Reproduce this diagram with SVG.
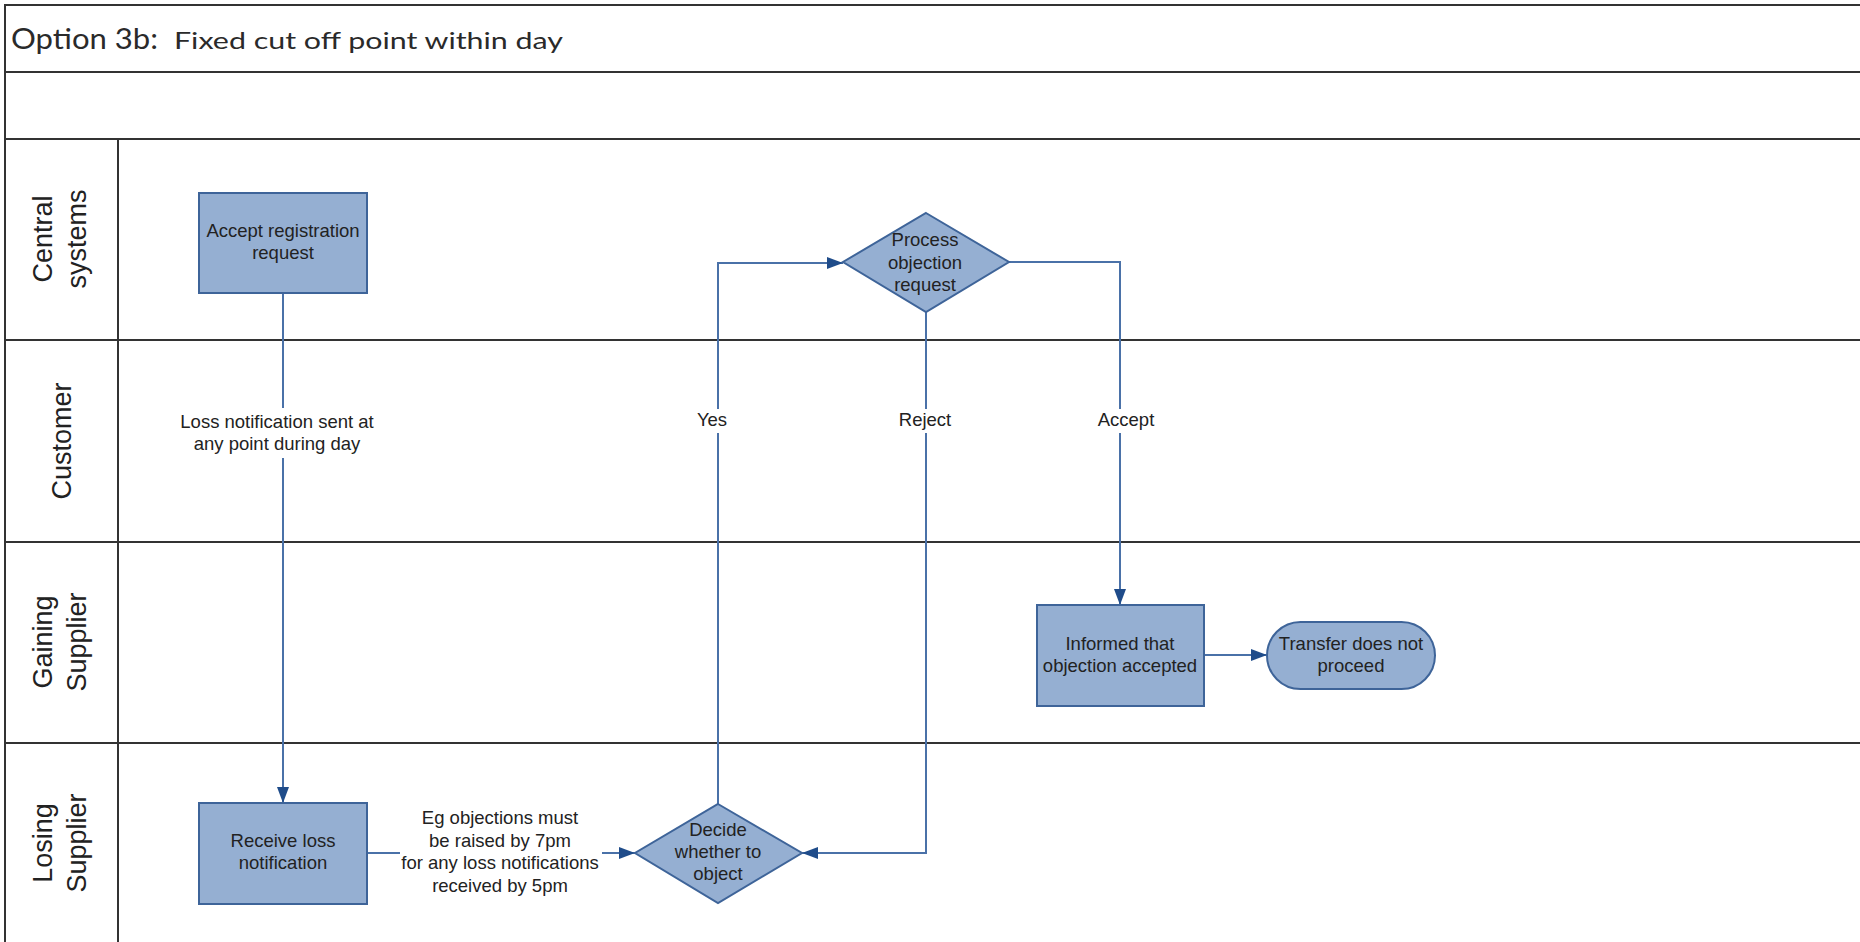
<svg xmlns="http://www.w3.org/2000/svg" width="1860" height="942" viewBox="0 0 1860 942">
  <style>
    .frame { stroke: #333; stroke-width: 2; fill: none; }
    .box { fill: #95afd2; stroke: #3e6499; stroke-width: 2; }
    .conn { fill: none; stroke: #4a71a8; stroke-width: 2; }
    .lbl { font-family: "Liberation Sans", Arial, sans-serif; font-size: 18.5px; fill: #222; text-anchor: middle; }
    .lane { font-family: "Liberation Sans", Arial, sans-serif; font-size: 27px; fill: #222; text-anchor: middle; }
    .title { font-family: Lato, "Open Sans", sans-serif; fill: #2a2a2a; }
    .bg { fill: #fff; }
  </style>
  <defs>
    <marker id="arr" viewBox="0 0 16 12" refX="16" refY="6" markerWidth="16" markerHeight="12" orient="auto" markerUnits="userSpaceOnUse">
      <path d="M0,0 L16,6 L0,12 z" fill="#1f4c8a"/>
    </marker>
  </defs>

  <rect width="1860" height="942" fill="#fff"/>

  <!-- swimlane frame -->
  <g id="frame">
    <path class="frame" d="M5,942 V5 H1860"/>
    <path class="frame" d="M5,72 H1860 M5,139 H1860 M5,340 H1860 M5,542 H1860 M5,743 H1860"/>
    <path class="frame" d="M118,139 V942"/>
  </g>

  <g id="title">
    <text class="title" x="11" y="49" font-size="29" textLength="147" lengthAdjust="spacingAndGlyphs">Option 3b:</text>
    <text class="title" x="174" y="49" font-size="24" textLength="389" lengthAdjust="spacingAndGlyphs">Fixed cut off point within day</text>
  </g>

  <g id="lanes">
    <text class="lane" transform="translate(52,239) rotate(-90)">Central</text>
    <text class="lane" transform="translate(86,239) rotate(-90)">systems</text>
    <text class="lane" transform="translate(71,441) rotate(-90)">Customer</text>
    <text class="lane" transform="translate(52,642) rotate(-90)">Gaining</text>
    <text class="lane" transform="translate(86,642) rotate(-90)">Supplier</text>
    <text class="lane" transform="translate(52,843) rotate(-90)">Losing</text>
    <text class="lane" transform="translate(86,843) rotate(-90)">Supplier</text>
  </g>

  <g id="connectors">
    <path class="conn" d="M283,293 V803" marker-end="url(#arr)"/>
    <rect class="bg" x="170" y="408" width="214" height="50"/>
    <text class="lbl" x="277" y="428">Loss notification sent at</text>
    <text class="lbl" x="277" y="450">any point during day</text>

    <path class="conn" d="M367,853 H635" marker-end="url(#arr)"/>
    <rect class="bg" x="400" y="805" width="202" height="95"/>
    <text class="lbl" x="500" y="824">Eg objections must</text>
    <text class="lbl" x="500" y="847">be raised by 7pm</text>
    <text class="lbl" x="500" y="869">for any loss notifications</text>
    <text class="lbl" x="500" y="892">received by 5pm</text>

    <path class="conn" d="M718,804 V263 H843" marker-end="url(#arr)"/>
    <rect class="bg" x="694" y="409" width="40" height="24"/>
    <text class="lbl" x="712" y="426">Yes</text>

    <path class="conn" d="M926,312 V853 H802" marker-end="url(#arr)"/>
    <rect class="bg" x="895" y="409" width="62" height="24"/>
    <text class="lbl" x="925" y="426">Reject</text>

    <path class="conn" d="M1009,262 H1120 V605" marker-end="url(#arr)"/>
    <rect class="bg" x="1094" y="409" width="64" height="24"/>
    <text class="lbl" x="1126" y="426">Accept</text>

    <path class="conn" d="M1204,655 H1267" marker-end="url(#arr)"/>
  </g>

  <g id="accept-registration">
    <rect class="box" x="199" y="193" width="168" height="100"/>
    <text class="lbl" x="283" y="237">Accept registration</text>
    <text class="lbl" x="283" y="259">request</text>
  </g>

  <g id="process-objection">
    <path class="box" d="M926,213 L1009,262 L926,312 L843,262 z"/>
    <text class="lbl" x="925" y="246">Process</text>
    <text class="lbl" x="925" y="269">objection</text>
    <text class="lbl" x="925" y="291">request</text>
  </g>

  <g id="receive-loss">
    <rect class="box" x="199" y="803" width="168" height="101"/>
    <text class="lbl" x="283" y="847">Receive loss</text>
    <text class="lbl" x="283" y="869">notification</text>
  </g>

  <g id="decide-object">
    <path class="box" d="M718,804 L802,853 L718,903 L635,853 z"/>
    <text class="lbl" x="718" y="836">Decide</text>
    <text class="lbl" x="718" y="858">whether to</text>
    <text class="lbl" x="718" y="880">object</text>
  </g>

  <g id="informed-accepted">
    <rect class="box" x="1037" y="605" width="167" height="101"/>
    <text class="lbl" x="1120" y="650">Informed that</text>
    <text class="lbl" x="1120" y="672">objection accepted</text>
  </g>

  <g id="transfer-stops">
    <rect class="box" x="1267" y="622" width="168" height="67" rx="33.5" ry="33.5"/>
    <text class="lbl" x="1351" y="650">Transfer does not</text>
    <text class="lbl" x="1351" y="672">proceed</text>
  </g>
</svg>
